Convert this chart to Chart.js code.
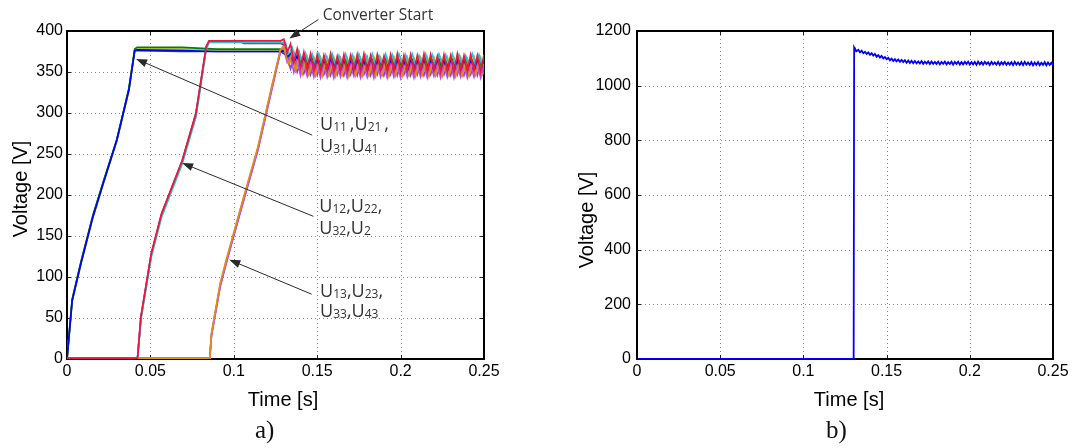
<!DOCTYPE html>
<html>
<head>
<meta charset="utf-8">
<script src="https://cdn.jsdelivr.net/npm/chart.js@4.4.1/dist/chart.umd.min.js"></script>
<style>
  html, body { margin: 0; padding: 0; background: #fff; }
  #wrap { position: relative; width: 1077px; height: 448px; overflow: hidden; }
  #left { position: absolute; left: 0; top: 0; }
  #right { position: absolute; left: 540px; top: 0; }
  .cap { position: absolute; top: 416px; line-height: 1; font: 25px "Liberation Serif", "DejaVu Serif", serif; color: #111; }
</style>
</head>
<body>
<div id="wrap">
  <canvas id="left" width="540" height="448"></canvas>
  <canvas id="right" width="537" height="448"></canvas>
  <div class="cap" style="left:255px">a)</div>
  <div class="cap" style="left:826px">b)</div>
</div>
<script>
// capacitor charging: time bases of the three pre-charge stages
const g1Time = [0, 0.0031, 0.0083, 0.0155, 0.0217, 0.0299, 0.0371, 0.0406, 0.042, 0.069, 0.09, 0.128];
const g2Time = [0, 0.0423, 0.0443, 0.0505, 0.0567, 0.0691, 0.0773, 0.0835, 0.0852, 0.104, 0.106, 0.128];
const g3Time = [0, 0.0856, 0.0866, 0.0918, 0.0959, 0.1042, 0.1145, 0.1227, 0.1279, 0.1297];

// after converter start (two sample phases)
const tailTimeA = [0.130, 0.132, 0.134, 0.136, 0.138, 0.140, 0.142, 0.144, 0.146, 0.148,
  0.150, 0.152, 0.154, 0.156, 0.158, 0.160, 0.162, 0.164, 0.166, 0.168,
  0.170, 0.172, 0.174, 0.176, 0.178, 0.180, 0.182, 0.184, 0.186, 0.188,
  0.190, 0.192, 0.194, 0.196, 0.198, 0.200, 0.202, 0.204, 0.206, 0.208,
  0.210, 0.212, 0.214, 0.216, 0.218, 0.220, 0.222, 0.224, 0.226, 0.228,
  0.230, 0.232, 0.234, 0.236, 0.238, 0.240, 0.242, 0.244, 0.246, 0.248, 0.250];
const tailTimeB = [0.131, 0.133, 0.135, 0.137, 0.139, 0.141, 0.143, 0.145, 0.147, 0.149,
  0.151, 0.153, 0.155, 0.157, 0.159, 0.161, 0.163, 0.165, 0.167, 0.169,
  0.171, 0.173, 0.175, 0.177, 0.179, 0.181, 0.183, 0.185, 0.187, 0.189,
  0.191, 0.193, 0.195, 0.197, 0.199, 0.201, 0.203, 0.205, 0.207, 0.209,
  0.211, 0.213, 0.215, 0.217, 0.219, 0.221, 0.223, 0.225, 0.227, 0.229,
  0.231, 0.233, 0.235, 0.237, 0.239, 0.241, 0.243, 0.245, 0.247, 0.249];

// stage 1 cells
const u11Rise = [0, 71, 116, 173, 214, 267, 328, 376, 377, 376, 375, 375];
const u21Rise = [0, 73, 118, 175, 216, 268, 330, 378, 380, 380, 378, 378];
const u31Rise = [0, 70, 115, 172, 213, 266, 327, 377, 378, 378, 377, 377];
const u41Rise = [0, 72, 117, 174, 215, 267, 329, 376, 376, 375, 375, 375];
const u11Tail = [376, 368, 372, 362, 370, 358, 368, 356, 367, 354,
  366, 353, 365, 352, 367, 354, 364, 352, 366, 353, 365, 351, 366, 353, 364, 352, 367, 353, 365, 352,
  366, 354, 365, 352, 366, 353, 364, 351, 366, 353, 365, 352, 367, 353, 365, 352, 366, 354, 364, 352,
  366, 353, 365, 352, 366, 353, 365, 352, 366, 353, 365];
const u21Tail = [373, 364, 371, 359, 368, 356, 366, 353, 365, 352,
  364, 351, 363, 350, 365, 351, 363, 352, 364, 350, 363, 351, 364, 350, 362, 351, 364, 350, 363, 351,
  365, 350, 363, 351, 364, 352, 363, 350, 364, 351, 362, 350, 364, 351, 363, 350, 365, 351, 363, 350,
  364, 351, 363, 350, 364, 352, 363, 351, 364, 350];
const u31Tail = [378, 370, 362, 370, 358, 368, 356, 368, 355, 367,
  355, 368, 356, 367, 355, 368, 356, 366, 355, 367, 356, 368, 355, 367, 356, 366, 355, 368, 356, 367,
  355, 366, 356, 368, 355, 367, 356, 368, 355, 366, 356, 367, 355, 368, 356, 367, 355, 366, 356, 368,
  355, 367, 356, 368, 355, 366, 356, 367, 355, 368, 356];
const u41Tail = [371, 360, 367, 357, 365, 355, 363, 353, 362, 353,
  362, 352, 361, 353, 362, 352, 361, 353, 363, 352, 361, 353, 362, 352, 361, 353, 362, 351, 361, 353,
  362, 352, 361, 353, 362, 352, 363, 353, 361, 352, 362, 353, 361, 352, 362, 353, 361, 352, 362, 353,
  361, 352, 362, 353, 361, 352, 362, 353, 361, 352];

// stage 2 cells
const u12Rise = [1, 1, 51, 128, 177, 242, 299, 381, 388, 388, 388, 388];
const u22Rise = [1, 1, 48, 124, 173, 238, 295, 378, 386, 386, 386, 386];
const u32Rise = [1, 1, 50, 127, 176, 241, 298, 380, 387, 387, 386, 386];
const u42Rise = [1, 1, 51, 128, 177, 242, 300, 381, 388, 387, 385, 385];
const u12Tail = [390, 374, 384, 362, 378, 355, 374, 352, 372, 351,
  371, 350, 370, 352, 372, 350, 369, 351, 371, 350, 370, 352, 371, 350, 372, 351, 370, 350, 371, 352,
  369, 350, 371, 351, 372, 350, 370, 352, 371, 350, 370, 351, 372, 350, 371, 352, 369, 350, 371, 351,
  370, 350, 372, 351, 370, 350, 371, 352, 370, 350, 371];
const u22Tail = [386, 370, 380, 364, 376, 361, 373, 360, 372, 359,
  372, 358, 371, 360, 372, 359, 370, 358, 372, 359, 371, 358, 372, 360, 371, 359, 372, 358, 370, 359,
  372, 358, 371, 359, 372, 360, 371, 358, 372, 359, 370, 358, 372, 359, 371, 358, 372, 360, 371, 359,
  372, 358, 371, 359, 370, 358, 372, 359, 371, 358];
const u32Tail = [386, 376, 366, 374, 358, 369, 355, 368, 354, 367,
  353, 366, 354, 367, 353, 366, 355, 367, 353, 366, 354, 367, 353, 366, 354, 368, 353, 366, 354, 367,
  353, 366, 354, 367, 353, 366, 354, 367, 355, 366, 353, 367, 354, 366, 353, 367, 354, 366, 353, 367,
  354, 366, 353, 367, 354, 366, 353, 368, 354, 366, 353];
const u42Tail = [382, 366, 376, 358, 370, 353, 366, 351, 365, 350,
  364, 351, 363, 350, 365, 351, 364, 350, 363, 351, 364, 350, 363, 352, 364, 350, 363, 351, 365, 350,
  363, 351, 364, 350, 363, 351, 364, 350, 363, 352, 364, 350, 365, 351, 363, 350, 364, 351, 363, 350,
  364, 351, 363, 350, 364, 352, 363, 350, 364, 351];

// stage 3 cells
const u13Rise = [1, 1, 31, 92, 124, 185, 259, 332, 377, 381];
const u23Rise = [1, 1, 28, 88, 120, 181, 255, 328, 374, 380];
const u33Rise = [1, 1, 30, 91, 123, 184, 258, 331, 376, 380];
const u43Rise = [1, 1, 29, 89, 121, 182, 256, 329, 375, 381];
const u13Tail = [372, 360, 374, 352, 366, 348, 363, 347, 361, 346,
  360, 345, 361, 346, 359, 345, 361, 347, 360, 345, 361, 346, 360, 345, 359, 346, 361, 345, 360, 347,
  361, 345, 360, 346, 361, 345, 359, 346, 360, 345, 361, 347, 360, 345, 361, 346, 360, 345, 359, 346,
  361, 345, 360, 346, 361, 345, 360, 347, 361, 345];
const u23Tail = [380, 362, 370, 350, 365, 346, 361, 345, 360, 344,
  359, 343, 358, 344, 360, 343, 358, 344, 359, 343, 358, 345, 359, 343, 358, 344, 360, 343, 359, 344,
  358, 343, 359, 344, 358, 343, 360, 344, 359, 343, 358, 344, 359, 343, 358, 345, 359, 343, 358, 344,
  360, 343, 358, 344, 359, 343, 358, 344, 359, 343, 358];
const u33Tail = [376, 362, 368, 352, 364, 349, 362, 348, 361, 347,
  362, 348, 361, 347, 363, 348, 361, 347, 362, 349, 361, 347, 362, 348, 361, 347, 363, 348, 361, 347,
  362, 348, 361, 347, 362, 349, 361, 347, 362, 348, 361, 347, 363, 348, 361, 347, 362, 348, 361, 347,
  362, 349, 361, 347, 362, 348, 361, 347, 363, 348];
const u43Tail = [381, 370, 354, 366, 350, 362, 348, 361, 347, 360,
  346, 360, 347, 359, 346, 361, 347, 360, 346, 359, 347, 360, 346, 361, 347, 359, 346, 360, 347, 360,
  346, 359, 347, 361, 346, 360, 347, 359, 346, 360, 347, 361, 346, 359, 347, 360, 346, 360, 347, 359,
  346, 361, 347, 360, 346, 359, 347, 360, 346, 361, 347];

// output (DC bus) voltage
const busTime = [0, 0.1302, 0.1305,
  0.131, 0.132, 0.133, 0.134, 0.135, 0.136, 0.137, 0.138, 0.139, 0.140,
  0.141, 0.142, 0.143, 0.144, 0.145, 0.146, 0.147, 0.148, 0.149, 0.150,
  0.151, 0.152, 0.153, 0.154, 0.155, 0.156, 0.157, 0.158, 0.159, 0.160,
  0.161, 0.162, 0.163, 0.164, 0.165, 0.166, 0.167, 0.168, 0.169, 0.170,
  0.171, 0.172, 0.173, 0.174, 0.175, 0.176, 0.177, 0.178, 0.179, 0.180,
  0.181, 0.182, 0.183, 0.184, 0.185, 0.186, 0.187, 0.188, 0.189, 0.190,
  0.191, 0.192, 0.193, 0.194, 0.195, 0.196, 0.197, 0.198, 0.199, 0.200,
  0.201, 0.202, 0.203, 0.204, 0.205, 0.206, 0.207, 0.208, 0.209, 0.210,
  0.211, 0.212, 0.213, 0.214, 0.215, 0.216, 0.217, 0.218, 0.219, 0.220,
  0.221, 0.222, 0.223, 0.224, 0.225, 0.226, 0.227, 0.228, 0.229, 0.230,
  0.231, 0.232, 0.233, 0.234, 0.235, 0.236, 0.237, 0.238, 0.239, 0.240,
  0.241, 0.242, 0.243, 0.244, 0.245, 0.246, 0.247, 0.248, 0.249, 0.250];
const busVolt = [0, 0, 1140,
  1134, 1126, 1131, 1122, 1128, 1119, 1124, 1116, 1122, 1113,
  1119, 1110, 1116, 1106, 1112, 1103, 1109, 1100, 1105, 1097,
  1102, 1093, 1099, 1090, 1097, 1089, 1096, 1087, 1094, 1086,
  1093, 1084, 1092, 1083, 1091, 1082, 1090, 1082, 1089, 1081,
  1090, 1080, 1088, 1081, 1089, 1079, 1088, 1080, 1087, 1079,
  1088, 1078, 1087, 1080, 1088, 1078, 1086, 1079, 1088, 1077,
  1087, 1079, 1088, 1077, 1086, 1078, 1087, 1079, 1088, 1077,
  1086, 1078, 1087, 1076, 1088, 1078, 1086, 1077, 1087, 1079,
  1086, 1076, 1087, 1078, 1085, 1077, 1087, 1076, 1086, 1078,
  1087, 1076, 1085, 1077, 1086, 1075, 1087, 1077, 1085, 1076,
  1086, 1075, 1087, 1077, 1085, 1076, 1086, 1074, 1085, 1076,
  1086, 1075, 1084, 1076, 1086, 1074, 1085, 1076, 1084, 1075];

const timeTicks = ['0', '0.05', '0.1', '0.15', '0.2', '0.25'];

const sansFamily = '"Liberation Sans", Arial, Helvetica, sans-serif';
const noteFamily = '"Open Sans", "Noto Sans", sans-serif';

function points(times, values) {
  const out = [];
  for (let i = 0; i < Math.min(times.length, values.length); i++) out.push({ x: times[i], y: values[i] });
  return out;
}

function trace(label, color, riseTime, rise, tailTime, tail) {
  return {
    label: label,
    data: points(riseTime, rise).concat(points(tailTime, tail)),
    borderColor: color,
    borderWidth: 1.7,
    pointRadius: 0,
    tension: 0,
    fill: false
  };
}

// dotted grid, frame, inward ticks, axis titles and arrow notes
const boxPlugin = {
  id: 'box',
  beforeDatasetsDraw(chart) {
    const { ctx, chartArea: a, scales: { x, y } } = chart;
    ctx.save();
    ctx.strokeStyle = '#8a8a8a';
    ctx.lineWidth = 1;
    ctx.setLineDash([1, 3]);
    ctx.beginPath();
    x.ticks.forEach(t => {
      const px = Math.round(x.getPixelForValue(t.value)) + 0.5;
      if (px > a.left + 2 && px < a.right - 2) { ctx.moveTo(px, a.top); ctx.lineTo(px, a.bottom); }
    });
    y.ticks.forEach(t => {
      const py = Math.round(y.getPixelForValue(t.value)) + 0.5;
      if (py > a.top + 2 && py < a.bottom - 2) { ctx.moveTo(a.left, py); ctx.lineTo(a.right, py); }
    });
    ctx.stroke();
    ctx.setLineDash([]);

    ctx.strokeStyle = '#222';
    ctx.beginPath();
    x.ticks.forEach(t => {
      const px = Math.round(x.getPixelForValue(t.value)) + 0.5;
      ctx.moveTo(px, a.bottom); ctx.lineTo(px, a.bottom - 4);
      ctx.moveTo(px, a.top); ctx.lineTo(px, a.top + 4);
    });
    y.ticks.forEach(t => {
      const py = Math.round(y.getPixelForValue(t.value)) + 0.5;
      ctx.moveTo(a.left, py); ctx.lineTo(a.left + 4, py);
      ctx.moveTo(a.right, py); ctx.lineTo(a.right - 4, py);
    });
    ctx.stroke();
    ctx.lineWidth = 2;
    ctx.strokeStyle = '#000';
    ctx.strokeRect(a.left, a.top, a.right - a.left, a.bottom - a.top);
    ctx.restore();
  },
  afterDraw(chart, args, opts) {
    const { ctx, scales: { x, y } } = chart;
    ctx.save();
    ctx.fillStyle = '#000';
    ctx.font = '20px ' + sansFamily;
    ctx.textAlign = 'center';
    ctx.textBaseline = 'middle';
    ctx.fillText('Time [s]', opts.xTitle[0], opts.xTitle[1]);
    ctx.translate(opts.yTitle[0], opts.yTitle[1]);
    ctx.rotate(-Math.PI / 2);
    ctx.fillText('Voltage [V]', 0, 0);
    ctx.restore();

    ctx.save();
    ctx.strokeStyle = '#2a2a2a';
    ctx.fillStyle = '#2a2a2a';
    ctx.lineWidth = 1;
    (opts.arrows || []).forEach(ar => {
      const x0 = x.getPixelForValue(ar.from[0]), y0 = y.getPixelForValue(ar.from[1]);
      const x1 = x.getPixelForValue(ar.to[0]), y1 = y.getPixelForValue(ar.to[1]);
      const ang = Math.atan2(y1 - y0, x1 - x0);
      ctx.beginPath();
      ctx.moveTo(x0, y0);
      ctx.lineTo(x1 - 8 * Math.cos(ang), y1 - 8 * Math.sin(ang));
      ctx.stroke();
      ctx.beginPath();
      ctx.moveTo(x1, y1);
      ctx.lineTo(x1 - 11 * Math.cos(ang) + 4 * Math.sin(ang), y1 - 11 * Math.sin(ang) - 4 * Math.cos(ang));
      ctx.lineTo(x1 - 11 * Math.cos(ang) - 4 * Math.sin(ang), y1 - 11 * Math.sin(ang) + 4 * Math.cos(ang));
      ctx.closePath();
      ctx.fill();
    });

    ctx.fillStyle = '#333';
    ctx.textAlign = 'left';
    ctx.textBaseline = 'alphabetic';
    (opts.notes || []).forEach(n => {
      let px = x.getPixelForValue(n.at[0]);
      const py = y.getPixelForValue(n.at[1]);
      n.parts.forEach(p => {
        const sub = p[1] === 1;
        ctx.font = (sub ? '12px ' : n.size + 'px ') + noteFamily;
        ctx.fillText(p[0], px, py + (sub ? 1 : 0));
        px += ctx.measureText(p[0]).width;
      });
    });
    ctx.restore();
  }
};

function axisOptions(cfg) {
  const grid = { display: false, drawTicks: false };
  const tickFont = { family: sansFamily, size: 16 };
  return {
    responsive: false,
    animation: false,
    layout: { padding: { top: cfg.top, right: cfg.right, left: 0, bottom: 0 } },
    plugins: {
      legend: { display: false },
      tooltip: { enabled: false },
      box: cfg.box
    },
    scales: {
      x: {
        type: 'linear', min: 0, max: 0.25,
        grid: grid, border: { display: false },
        ticks: {
          stepSize: 0.05, color: '#000', font: tickFont, padding: 3, maxRotation: 0, autoSkip: false,
          callback: (v, i) => timeTicks[i]
        },
        afterFit: s => { s.height = cfg.bottom; }
      },
      y: {
        type: 'linear', min: 0, max: cfg.yMax,
        grid: grid, border: { display: false },
        ticks: {
          stepSize: cfg.yStep, color: '#000', font: tickFont, padding: cfg.yPad, autoSkip: false,
          callback: v => String(v)
        },
        afterFit: s => { s.width = cfg.left; }
      }
    }
  };
}

// first dataset is painted last (on top)
new Chart(document.getElementById('left'), {
  type: 'line',
  data: {
    datasets: [
      trace('U12', '#e8193c', g2Time, u12Rise, tailTimeA, u12Tail),
      trace('U13', '#e08c1a', g3Time, u13Rise, tailTimeB, u13Tail),
      trace('U11', '#0000ff', g1Time, u11Rise, tailTimeA, u11Tail),
      trace('U23', '#b44cf0', g3Time, u23Rise, tailTimeA, u23Tail),
      trace('U22', '#22c4d8', g2Time, u22Rise, tailTimeB, u22Tail),
      trace('U21', '#008000', g1Time, u21Rise, tailTimeB, u21Tail),
      trace('U31', '#c4c800', g1Time, u31Rise, tailTimeA, u31Tail),
      trace('U32', '#ff3fa0', g2Time, u32Rise, tailTimeA, u32Tail),
      trace('U33', '#f2a93b', g3Time, u33Rise, tailTimeB, u33Tail),
      trace('U41', '#1c3cc8', g1Time, u41Rise, tailTimeB, u41Tail),
      trace('U42', '#b0183c', g2Time, u42Rise, tailTimeB, u42Tail),
      trace('U43', '#8e3fd0', g3Time, u43Rise, tailTimeA, u43Tail)
    ]
  },
  options: axisOptions({
    top: 31, right: 56, left: 67, bottom: 89, yMax: 400, yStep: 50, yPad: 4,
    box: {
      xTitle: [283, 400], yTitle: [21, 189],
      arrows: [
        { from: [0.147, 273], to: [0.0414, 366] },
        { from: [0.1477, 174], to: [0.069, 239] },
        { from: [0.1467, 79], to: [0.0973, 121] },
        { from: [0.1507, 414], to: [0.1333, 391] }
      ],
      notes: [
        { at: [0.1533, 414], size: 15.5, parts: [['Converter Start', 0]] },
        { at: [0.1517, 279], size: 18, parts: [['U', 0], ['11', 1], ['\u2009,', 0], ['U', 0], ['21', 1], ['\u2009,', 0]] },
        { at: [0.1517, 253], size: 18, parts: [['U', 0], ['31', 1], [',', 0], ['U', 0], ['41', 1]] },
        { at: [0.1513, 179], size: 18, parts: [['U', 0], ['12', 1], [',', 0], ['U', 0], ['22', 1], [',', 0]] },
        { at: [0.1513, 153], size: 18, parts: [['U', 0], ['32', 1], [',', 0], ['U', 0], ['2', 1]] },
        { at: [0.1517, 76], size: 18, parts: [['U', 0], ['13', 1], [',', 0], ['U', 0], ['23', 1], [',', 0]] },
        { at: [0.1517, 51], size: 18, parts: [['U', 0], ['33', 1], [',', 0], ['U', 0], ['43', 1]] }
      ]
    }
  }),
  plugins: [boxPlugin]
});

new Chart(document.getElementById('right'), {
  type: 'line',
  data: {
    datasets: [{
      label: 'U_DC',
      data: points(busTime, busVolt),
      borderColor: '#0000ff',
      borderWidth: 1.8,
      pointRadius: 0,
      tension: 0,
      fill: false
    }]
  },
  options: axisOptions({
    top: 31, right: 24, left: 97, bottom: 89, yMax: 1200, yStep: 200, yPad: 6,
    box: { xTitle: [309, 400], yTitle: [47, 220] }
  }),
  plugins: [boxPlugin]
});
</script>
</body>
</html>
